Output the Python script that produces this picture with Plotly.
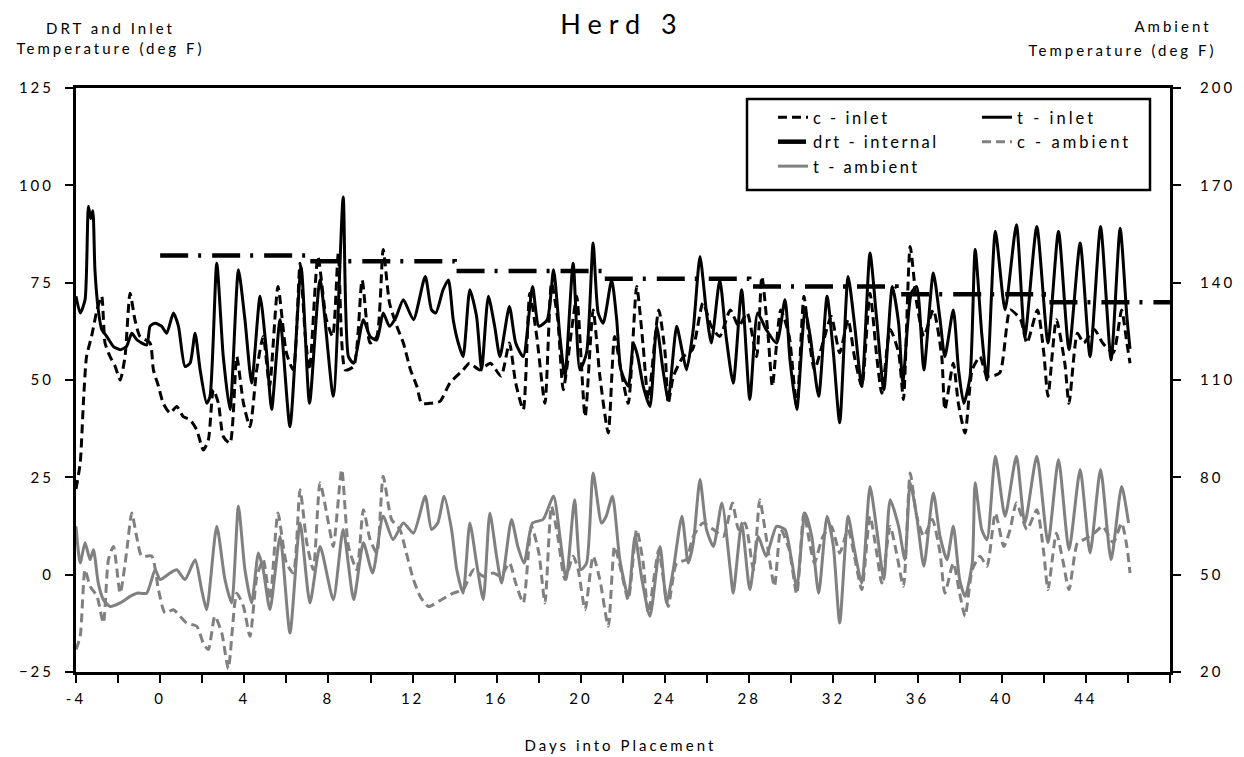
import plotly.graph_objects as go

# ---------------- data ----------------
t_inlet_day = [-4.0, -3.8, -3.57, -3.41, -3.3, -3.2, -3.1, -2.94, -2.78, -2.54, -2.22, -1.9, -1.6, -1.35, -1.1,
               -0.64, -0.48, -0.24, 0.07, 0.31, 0.63, 0.87, 1.18, 1.42, 1.66, 1.9, 2.21, 2.37, 2.69, 3.0, 3.32,
               3.72, 4.03, 4.35, 4.75, 5.06, 5.3, 5.7, 6.17, 6.7, 7.1, 7.6, 8.23, 8.7, 8.95, 9.2, 9.66, 9.98,
               10.3, 10.6, 10.9, 11.2, 11.56, 12.04, 12.6, 12.9, 13.1, 13.45, 13.7, 13.93, 14.17, 14.4, 14.72,
               15.04, 15.28, 15.6, 15.9, 16.15, 16.6, 16.9, 17.26, 17.7, 18.0, 18.4, 18.7, 19.0, 19.24, 19.63,
               19.95, 20.27, 20.58, 20.82, 21.06, 21.46, 21.7, 21.9, 22.25, 22.5, 22.7, 22.96, 23.28, 23.6, 23.9,
               24.15, 24.55, 24.8, 25.02, 25.34, 25.66, 25.97, 26.2, 26.6, 26.9, 27.24, 27.64, 28.03, 28.4, 28.8,
               29.3, 29.7, 29.94, 30.26, 30.65, 30.9, 31.3, 31.7, 32.0, 32.3, 32.7, 33.0, 33.35, 33.74, 34.06,
               34.4, 34.8, 35.1, 35.3, 35.7, 35.96, 36.3, 36.75, 37.07, 37.3, 37.7, 37.95, 38.2, 38.5, 38.74,
               39.05, 39.3, 39.7, 40.16, 40.7, 41.1, 41.67, 42.2, 42.7, 43.2, 43.73, 44.2, 44.7, 45.2, 45.63,
               45.95, 46.1]
t_inlet = [71.5, 67.2, 70.6, 94.6, 91.5, 93.5, 78.3, 68, 63, 61.2, 58.6, 57.8, 58.6, 62, 60.3,
           59, 63.8, 64.6, 63.8, 62, 67.2, 63.8, 53.5, 54.3, 62, 52.6, 44, 45.8, 80, 56, 42.4,
           78.3, 65.5, 49.2, 71.5, 57, 42.4, 65.5, 38, 79, 44, 75.7, 45.8, 97, 56, 54.3, 65.5, 61.2,
           60.3, 67.2, 63.8, 66, 70.6, 65.5, 76.6, 68, 67.2, 73.2, 75.7, 65.5, 59.5, 56, 73.2,
           66.3, 52.6, 71.5, 63.8, 56, 68.9, 59.5, 56, 74, 63.8, 65.5, 78.3, 61.2, 51, 80,
           52.6, 57, 85.2, 67.2, 64.6, 75.7, 65.5, 52.6, 48.4, 59.5, 56, 48.4, 43.2, 63.8, 52.6,
           45, 63.8, 57.8, 52.6, 63, 81.7, 67.2, 59.5, 75.7, 61.2, 49.2, 73.2, 45, 67.2, 63,
           59.5, 70.6, 55, 42.4, 68, 61.2, 45.8, 71.5, 57, 39, 76.6, 64.6, 48.4, 82.6, 65.5,
           47.5, 74, 64.6, 49.2, 72.3, 74, 52.6, 77.5, 65.5, 56, 68, 52.6, 44, 51, 83.5,
           62, 50, 88.2, 68, 89.9, 61.2, 89.4, 59.5, 88.2, 57.8, 85.2, 56, 89.4, 55.2, 89,
           66.3, 58]

c_inlet_day = [-4.0, -3.8, -3.65, -3.5, -3.26, -3.0, -2.78, -2.62, -2.38, -2.14, -1.9, -1.67, -1.43, -1.2,
               -0.96, -0.48, -0.32, -0.08, 0.15, 0.47, 0.79, 1.1, 1.42, 1.74, 2.05, 2.29, 2.53, 2.77, 3.0,
               3.32, 3.64, 3.96, 4.27, 4.59, 4.9, 5.2, 5.6, 6.0, 6.33, 6.65, 6.9, 7.1, 7.5, 7.9, 8.2, 8.47,
               8.8, 9.2, 9.6, 9.98, 10.3, 10.6, 10.9, 11.25, 11.56, 11.9, 12.2, 12.43, 12.8, 13.3, 13.77,
               14.4, 14.7, 15.2, 15.7, 16.2, 16.6, 16.9, 17.26, 17.57, 17.9, 18.29, 18.6, 18.9, 19.16, 19.56,
               19.8, 20.2, 20.58, 20.9, 21.3, 21.6, 21.9, 22.25, 22.65, 22.96, 23.2, 23.7, 24.0, 24.15, 24.4,
               24.86, 25.3, 25.8, 26.2, 26.6, 27.1, 27.5, 27.9, 28.35, 28.6, 28.9, 29.1, 29.5, 29.9, 30.26,
               30.6, 30.87, 31.1, 31.5, 31.9, 32.3, 32.7, 33.0, 33.35, 33.74, 34.06, 34.3, 34.7, 35.1, 35.33,
               35.65, 35.96, 36.3, 36.75, 37.15, 37.3, 37.7, 37.94, 38.26, 38.6, 38.97, 39.3, 39.9, 40.4,
               40.9, 41.2, 41.7, 42.0, 42.2, 42.6, 43.0, 43.2, 43.6, 43.9, 44.4, 44.8, 45.3, 45.7, 45.95, 46.1]
c_inlet = [22, 28.7, 44, 56, 61.2, 68, 71.5, 59.5, 56, 53.5, 50, 56, 72.3, 65.5,
           61.2, 59.5, 52.6, 48.4, 44, 41.5, 43.2, 40.6, 39.8, 37.2, 32, 34.6, 47.5, 44, 35.5,
           33.8, 56, 44, 38, 52.6, 61.2, 48.4, 74, 57, 52.6, 80, 61.2, 52.6, 81.7, 65.5, 61.2, 82.6,
           52.6, 53.5, 75.7, 59.5, 61.2, 83.5, 69.8, 63.8, 59.5, 52.6, 48.4, 44, 44, 44.5, 49.2,
           52.6, 54.3, 52.6, 54.3, 51, 59.5, 49.2, 42.4, 72.3, 61.2, 44, 74.9, 65.5, 47.5, 63,
           71.5, 40.6, 68, 51, 36.4, 61.2, 52.6, 44, 74, 58.6, 45, 68, 57, 44, 51,
           56, 57.8, 69.8, 63.8, 61.2, 68, 63.8, 67.2, 56, 76.6, 61.2, 48.4, 68, 61.2, 43,
           71.5, 59.5, 52.6, 59.5, 66.3, 57, 65.5, 56, 48.4, 72.3, 56, 46.6, 63, 57, 45,
           84.3, 69.8, 61.2, 68, 56, 42.4, 54.3, 44, 36.4, 52.6, 56, 51, 51.8, 68,
           65.5, 59.5, 68, 57, 45.8, 65.5, 54.3, 44, 62, 59.5, 63, 59.5, 57, 68, 59.5, 54.3]

drt_day = [0, 7, 14, 21, 28, 35, 42, 48]
drt_internal = [82, 80.5, 78, 76, 74, 72, 70, 70]

# ambient values are on the right-hand axis (20 - 200)
c_amb_day = [-4.0, -3.8, -3.57, -3.33, -3.0, -2.7, -2.46, -2.22, -1.9, -1.6, -1.35, -1.12, -0.88, -0.4,
             -0.08, 0.23, 0.63, 0.94, 1.26, 1.74, 2.05, 2.29, 2.6, 2.93, 3.24, 3.64, 3.96, 4.27, 4.6, 4.9,
             5.22, 5.6, 6.0, 6.33, 6.65, 6.97, 7.28, 7.6, 8.0, 8.23, 8.63, 8.95, 9.35, 9.66, 9.98, 10.3,
             10.6, 11.0, 11.4, 11.7, 12.04, 12.36, 12.75, 13.3, 13.93, 14.4, 14.9, 15.36, 15.83, 16.2, 16.6,
             16.9, 17.26, 17.65, 18.0, 18.29, 18.6, 18.9, 19.24, 19.63, 19.87, 20.2, 20.58, 20.9, 21.3,
             21.6, 21.9, 22.25, 22.65, 22.96, 23.2, 23.7, 23.9, 24.15, 24.55, 25.0, 25.34, 25.8, 26.3,
             26.77, 27.2, 27.5, 27.8, 28.2, 28.5, 28.8, 29.2, 29.5, 29.9, 30.26, 30.6, 30.9, 31.1, 31.5,
             31.9, 32.3, 32.7, 33.0, 33.35, 33.74, 34.06, 34.3, 34.7, 35.0, 35.33, 35.65, 35.96, 36.3,
             36.7, 37.07, 37.3, 37.7, 38.0, 38.26, 38.6, 38.97, 39.3, 39.7, 40.1, 40.4, 40.7, 41.2, 41.67,
             42.0, 42.2, 42.6, 42.9, 43.2, 43.6, 43.9, 44.4, 44.8, 45.3, 45.7, 45.95, 46.1]
c_ambient = [26.9, 31, 51.5, 46.4, 43.3, 35.1, 54.6, 58.7, 44.3, 56.7, 69, 61.8, 55.7, 55.7,
             45.4, 38.2, 39.2, 37.2, 35.1, 34.1, 28.9, 26.9, 37.2, 32, 21, 44.3, 40.2, 31, 49.5, 54.6,
             42.3, 69, 53.6, 50.5, 76.2, 59.8, 51.5, 78.3, 65.9, 58.7, 82.4, 58.7, 51.5, 70, 60.8, 56.7,
             80.3, 67, 63.9, 56.7, 48.5, 43.3, 40.2, 42, 44.3, 45.4, 51.5, 49.5, 50.5, 49.5, 53.6,
             47.4, 41.3, 64.9, 56.7, 41.3, 71.1, 61.8, 48.5, 55.7, 51.5, 39.2, 55.7, 48.5, 34.1,
             58.7, 51.5, 42.3, 63.9, 53.6, 38.2, 57.7, 49.5, 40.2, 53.6, 54.6, 61.8, 65.9, 63.9,
             61.8, 72.1, 63.9, 65.9, 51.5, 73.1, 61.8, 46.4, 63.9, 57.7, 44, 69, 58.7, 53.6, 61.8,
             64.9, 56.7, 63.9, 55.7, 45.4, 68, 56.7, 47.4, 64.9, 56.7, 46.4, 81.3, 68, 61.8,
             67, 56.7, 44.3, 53.6, 44.3, 37.2, 51.5, 55.7, 52.6, 69, 58.7, 63.9, 72.1, 63.9, 70,
             56.7, 45.4, 62.8, 54.6, 45.4, 59.8, 60.8, 62.8, 64.9, 59.8, 65.9, 58.7, 50.5]

t_amb_day = [-4.0, -3.8, -3.57, -3.33, -3.17, -2.94, -2.7, -2.38, -1.9, -1.43, -1.1, -0.64, -0.24, 0.0,
             0.47, 0.79, 1.18, 1.66, 1.97, 2.21, 2.69, 3.08, 3.4, 3.72, 4.03, 4.35, 4.67, 4.9, 5.22, 5.7,
             6.17, 6.65, 7.12, 7.6, 8.23, 8.7, 9.2, 9.66, 10.1, 10.6, 11.07, 11.56, 12.04, 12.6, 12.9,
             13.2, 13.5, 13.85, 14.1, 14.4, 14.72, 15.04, 15.36, 15.67, 15.99, 16.23, 16.7, 17.0, 17.3,
             17.7, 18.2, 18.7, 19.0, 19.3, 19.7, 20.0, 20.27, 20.58, 20.98, 21.2, 21.5, 21.85, 22.25,
             22.57, 22.9, 23.28, 23.76, 24.07, 24.39, 24.8, 25.1, 25.34, 25.66, 25.97, 26.3, 26.7, 27.1,
             27.24, 27.64, 28.03, 28.43, 28.8, 29.3, 29.7, 30.0, 30.26, 30.65, 30.97, 31.3, 31.7, 32.0,
             32.3, 32.7, 33.0, 33.35, 33.74, 34.06, 34.4, 34.7, 35.1, 35.4, 35.65, 35.96, 36.3, 36.75,
             37.07, 37.4, 37.7, 38.0, 38.26, 38.6, 38.74, 39.05, 39.3, 39.7, 40.16, 40.7, 41.1, 41.67,
             42.2, 42.7, 43.2, 43.73, 44.2, 44.7, 45.2, 45.7, 46.03]
t_ambient = [64.9, 53.6, 59.8, 54.6, 57.7, 47.4, 42.3, 40.2, 41.3, 43.3, 44.3, 44.3, 51.5, 48.5,
             50.5, 51.5, 48.5, 54.6, 45.4, 39.2, 64.9, 48.5, 41.3, 71.1, 51.5, 41.3, 56.7, 51.5, 39.2, 61.8,
             32, 65.9, 41.3, 58.7, 42.3, 63.9, 42.3, 59.8, 50.5, 68, 60.8, 65.9, 62.8, 74.2, 63.9,
             66, 74.2, 63.9, 51.5, 44.3, 65.9, 53.6, 42.3, 69, 55.7, 47.4, 67, 58.7, 53.6,
             65.9, 67, 74.2, 61.8, 48.5, 73.1, 51.5, 53.6, 81.3, 65.9, 68, 74.2, 54.6, 43.3,
             61.8, 48.5, 37.2, 58.7, 41.3, 51.5, 68, 53.6, 59.8, 79.3, 63.9, 58.7, 72.1, 51.5,
             44.3, 65.9, 45.4, 61.8, 55.7, 64.9, 63.9, 55, 46, 69, 61.8, 44.3, 68, 58.7,
             35.1, 68, 57.7, 47.4, 77.2, 63.9, 48.5, 73.1, 64.9, 54.6, 78.3, 68, 52.6, 75.2,
             61.8, 54.6, 64.9, 48.5, 43.3, 53.6, 78.3, 63.9, 60.8, 86.5, 68, 86.5, 65.9, 86.5,
             59.8, 85.5, 57.7, 82.4, 56.7, 82.4, 54.6, 77.2, 65.9]

x_tick_vals = list(range(-4, 49, 2))
x_tick_text = [str(v) if (v % 4 == 0 and v <= 44) else "" for v in x_tick_vals]
y_left_ticks = [-25, 0, 25, 50, 75, 100, 125]
y_right_ticks = [20, 50, 80, 110, 140, 170, 200]

# ---------------- styling ----------------
FONT = "Lato"
GRAY = "#808080"
SMOOTH = 0.6
LW = 3

fig = go.Figure()
fig.add_trace(go.Scatter(x=c_inlet_day, y=c_inlet, name="c - inlet", mode="lines", legend="legend",
                         line=dict(color="black", width=LW, dash="9px,5px", shape="spline", smoothing=SMOOTH)))
fig.add_trace(go.Scatter(x=t_inlet_day, y=t_inlet, name="t - inlet", mode="lines", legend="legend2",
                         line=dict(color="black", width=LW, shape="spline", smoothing=SMOOTH)))
fig.add_trace(go.Scatter(x=drt_day, y=drt_internal, name="drt - internal", mode="lines", legend="legend",
                         line=dict(color="black", width=4.5, dash="28px,10px,3px,11px", shape="hv")))
fig.add_trace(go.Scatter(x=c_amb_day, y=c_ambient, name="c - ambient", mode="lines", yaxis="y2",
                         legend="legend2",
                         line=dict(color=GRAY, width=LW, dash="9px,5px", shape="spline", smoothing=SMOOTH)))
fig.add_trace(go.Scatter(x=t_amb_day, y=t_ambient, name="t - ambient", mode="lines", yaxis="y2",
                         legend="legend",
                         line=dict(color=GRAY, width=LW, shape="spline", smoothing=SMOOTH)))

# the page body has an 8px margin, so the figure is 8px smaller and shifted
OFF = 8
W, H = 1244 - OFF, 757 - OFF
L, R, T, B = 76 - OFF, 74, 88 - OFF, 85
pw = W - L - R
ph = H - T - B


def px_x(xp):  # reference-screenshot pixel -> paper fraction
    return (xp - OFF - L) / pw


def px_y(yp):
    return 1 - (yp - OFF - T) / ph


legend_style = dict(orientation="v", xanchor="left", yanchor="top", bgcolor="rgba(0,0,0,0)",
                    borderwidth=0, traceorder="normal", font=dict(family=FONT, size=16.5))

fig.update_layout(
    width=W, height=H,
    margin=dict(l=L, r=R, t=T, b=B, autoexpand=False),
    plot_bgcolor="white", paper_bgcolor="white",
    font=dict(family=FONT, size=15, color="black"),
    title=dict(text="Herd 3", x=(622 - OFF) / W, xref="container", y=1 - (25 - OFF) / H, yref="container",
               xanchor="center", yanchor="middle", font=dict(family=FONT, size=27, color="black")),
    xaxis=dict(range=[-4, 48], tickmode="array", tickvals=x_tick_vals, ticktext=x_tick_text,
               showgrid=False, zeroline=False, showline=True, linewidth=3, linecolor="black",
               mirror=True, ticks="outside", ticklen=8, tickwidth=2, tickcolor="black",
               ticklabelstandoff=3, tickfont=dict(family=FONT, size=15), automargin=False),
    yaxis=dict(range=[-25, 125], tickmode="array", tickvals=y_left_ticks,
               showgrid=False, zeroline=False, showline=True, linewidth=3, linecolor="black",
               ticks="outside", ticklen=8, tickwidth=2, tickcolor="black",
               ticklabelstandoff=8, tickfont=dict(family=FONT, size=15), automargin=False),
    yaxis2=dict(range=[20, 200], tickmode="array", tickvals=y_right_ticks, overlaying="y", side="right",
                showgrid=False, zeroline=False, showline=True, linewidth=3, linecolor="black",
                ticks="outside", ticklen=8, tickwidth=2, tickcolor="black",
                ticklabelstandoff=16, tickfont=dict(family=FONT, size=15), automargin=False),
    legend=dict(x=px_x(773), y=px_y(100), **legend_style),
    legend2=dict(x=px_x(977), y=px_y(100), **legend_style),
    showlegend=True,
    shapes=[dict(type="rect", xref="paper", yref="paper", layer="above",
                 x0=px_x(747), x1=px_x(1150), y0=px_y(190), y1=px_y(99),
                 line=dict(color="black", width=2.5), fillcolor="white")],
)

fig.add_annotation(text="DRT and Inlet<br>Temperature (deg F)", xref="paper", yref="paper",
                   x=px_x(110), y=px_y(38), xanchor="center", yanchor="middle", align="center",
                   showarrow=False, font=dict(family=FONT, size=15))
fig.add_annotation(text="Ambient", xref="paper", yref="paper",
                   x=px_x(1173), y=px_y(26), xanchor="center", yanchor="middle",
                   showarrow=False, font=dict(family=FONT, size=15))
fig.add_annotation(text="Temperature (deg F)", xref="paper", yref="paper",
                   x=px_x(1122), y=px_y(50), xanchor="center", yanchor="middle",
                   showarrow=False, font=dict(family=FONT, size=15))
fig.add_annotation(text="Days into Placement", xref="paper", yref="paper",
                   x=px_x(620), y=px_y(745), xanchor="center", yanchor="middle",
                   showarrow=False, font=dict(family=FONT, size=15))

spacing_js = """
var gd = document.getElementById('{plot_id}');
gd.querySelectorAll('text').forEach(function(t){ t.style.letterSpacing = '3px'; });
gd.querySelectorAll('.legendtext').forEach(function(t){ t.style.letterSpacing = '2.5px'; });
gd.querySelectorAll('.infolayer [clip-path]').forEach(function(e){ e.removeAttribute('clip-path'); });
var tt = gd.querySelector('.gtitle');
if (tt) { tt.style.letterSpacing = '7px'; }
"""

fig.write_html("out.html", post_script=spacing_js)
